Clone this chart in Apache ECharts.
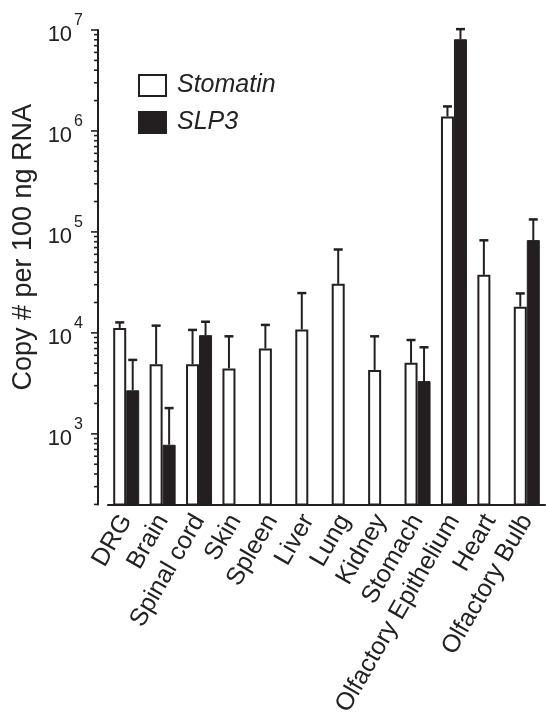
<!DOCTYPE html>
<html>
<head>
<meta charset="utf-8">
<script src="https://cdn.jsdelivr.net/npm/echarts@6/dist/echarts.min.js"></script>
<style>
  html, body { margin: 0; padding: 0; background: #fff; }
  #chart { width: 546px; height: 719px; }
</style>
</head>
<body>
<div id="chart"></div>
<script>
// tissues on the x axis
const tissues = ['DRG', 'Brain', 'Spinal cord', 'Skin', 'Spleen', 'Liver', 'Lung',
  'Kidney', 'Stomach', 'Olfactory Epithelium', 'Heart', 'Olfactory Bulb'];

// copies per 100 ng RNA (bar height) and top of the error bar
const stomatin      = [11200, 4900, 4900, 4450, 7000, 10800, 30600, 4300, 5050, 1390000, 37600, 18200];
const stomatinUpper = [12700, 11800, 10700, 9250, 12000, 24800, 67000, 9250, 8500, 1750000, 82600, 24600];
const slp3          = [2700, 780, 9500, null, null, null, null, null, 3330, 8100000, null, 83000];
const slp3Upper     = [5400, 1800, 12900, null, null, null, null, null, 7200, 10200000, null, 133000];

const yMin = 200, yMax = 1e7;

(function(){
  const chart = echarts.init(document.getElementById('chart'), null, { renderer: 'canvas' });
  const FONT = 'Liberation Sans';
  const INK = '#231f20';
  const BAR_W = 13;
  const AXIS_OFFSET = 10;

  // y axis tick positions: 1..9 x 10^n inside the range
  const yTicks = [];
  for (let e = 2; e <= 7; e++) {
    for (let m = 1; m <= 9; m++) {
      const v = m * Math.pow(10, e);
      if (v >= yMin && v <= yMax) yTicks.push([0, v, m === 1 ? 1 : 0]);
    }
  }

  const errData = (vals, ups) => vals.map((v, i) => v == null ? null : [i, v, ups[i]]).filter(Boolean);

  function errItem(side){
    return function(params, api){
      const top = api.coord([api.value(0), api.value(2)]);
      const bot = api.coord([api.value(0), api.value(1)]);
      const x = top[0] + side * BAR_W / 2;
      return {
        type: 'group',
        children: [
          { type: 'line', shape: { x1: x, y1: bot[1], x2: x, y2: top[1] },
            style: { stroke: INK, lineWidth: 2 } },
          { type: 'line', shape: { x1: x - 4.5, y1: top[1], x2: x + 4.5, y2: top[1] },
            style: { stroke: INK, lineWidth: 2.5 } }
        ]
      };
    };
  }

  function tickItem(params, api){
    const p = api.coord([0, api.value(1)]);
    const ax = params.coordSys.x - AXIS_OFFSET;
    const len = api.value(2) ? 7 : 4;
    return { type: 'line', shape: { x1: ax - len, y1: p[1], x2: ax, y2: p[1] },
      style: { stroke: INK, lineWidth: 1.6 } };
  }

  chart.setOption({
    animation: false,
    backgroundColor: '#fff',
    textStyle: { fontFamily: FONT, color: '#222' },
    grid: { left: 108, top: 30, width: 437, height: 477, containLabel: false },
    legend: {
      orient: 'vertical', left: 138, top: 73, padding: 0,
      icon: 'rect', itemWidth: 27, itemHeight: 21, itemGap: 12,
      data: ['Stomatin', 'SLP3'],
      textStyle: { fontFamily: FONT, fontSize: 25, fontStyle: 'italic', color: '#222',
        lineHeight: 21, padding: [0, 0, 0, 6] },
      selectedMode: false
    },
    xAxis: {
      type: 'category', data: tissues,
      axisLine: { onZero: false, lineStyle: { color: INK, width: 2 } },
      axisTick: { alignWithLabel: true, length: 6, lineStyle: { color: INK, width: 2 } },
      axisLabel: { rotate: 60, margin: 12, fontSize: 25, color: '#222', interval: 0, fontFamily: FONT },
      splitLine: { show: false }
    },
    yAxis: {
      type: 'log', logBase: 10, min: yMin, max: yMax, offset: AXIS_OFFSET,
      name: 'Copy # per 100 ng RNA', nameLocation: 'middle', nameGap: 60, nameRotate: 90,
      nameTextStyle: { fontSize: 27, color: '#222', fontFamily: FONT, padding: [0, 0, 0, 40] },
      axisLine: { show: true, lineStyle: { color: INK, width: 2 } },
      axisTick: { show: false },
      splitLine: { show: false },
      axisLabel: {
        margin: 15,
        formatter: function(v){
          const e = Math.round(Math.log10(v));
          if (Math.abs(Math.pow(10, e) - v) / v > 1e-6) return '';
          return '{b|10}{s|' + e + '}';
        },
        rich: {
          b: { fontSize: 22, color: '#222', fontFamily: FONT, padding: [10, 0, 0, 0] },
          s: { fontSize: 16, color: '#222', fontFamily: FONT, padding: [0, 0, 18, 2] }
        }
      }
    },
    series: [
      { name: 'Stomatin', type: 'bar', data: stomatin, barWidth: BAR_W, barGap: '0%',
        itemStyle: { color: '#fff', borderColor: INK, borderWidth: 2 } },
      { name: 'SLP3', type: 'bar', data: slp3, barWidth: BAR_W, barGap: '0%',
        itemStyle: { color: INK, borderColor: INK, borderWidth: 1 } },
      { type: 'custom', renderItem: errItem(-1), data: errData(stomatin, stomatinUpper),
        encode: { x: 0, y: [1, 2] }, z: 5 },
      { type: 'custom', renderItem: errItem(1), data: errData(slp3, slp3Upper),
        encode: { x: 0, y: [1, 2] }, z: 5 },
      { type: 'custom', renderItem: tickItem, data: yTicks, encode: { x: 0, y: 1 },
        clip: false, silent: true, z: 6 }
    ]
  });
})();
</script>
</body>
</html>
